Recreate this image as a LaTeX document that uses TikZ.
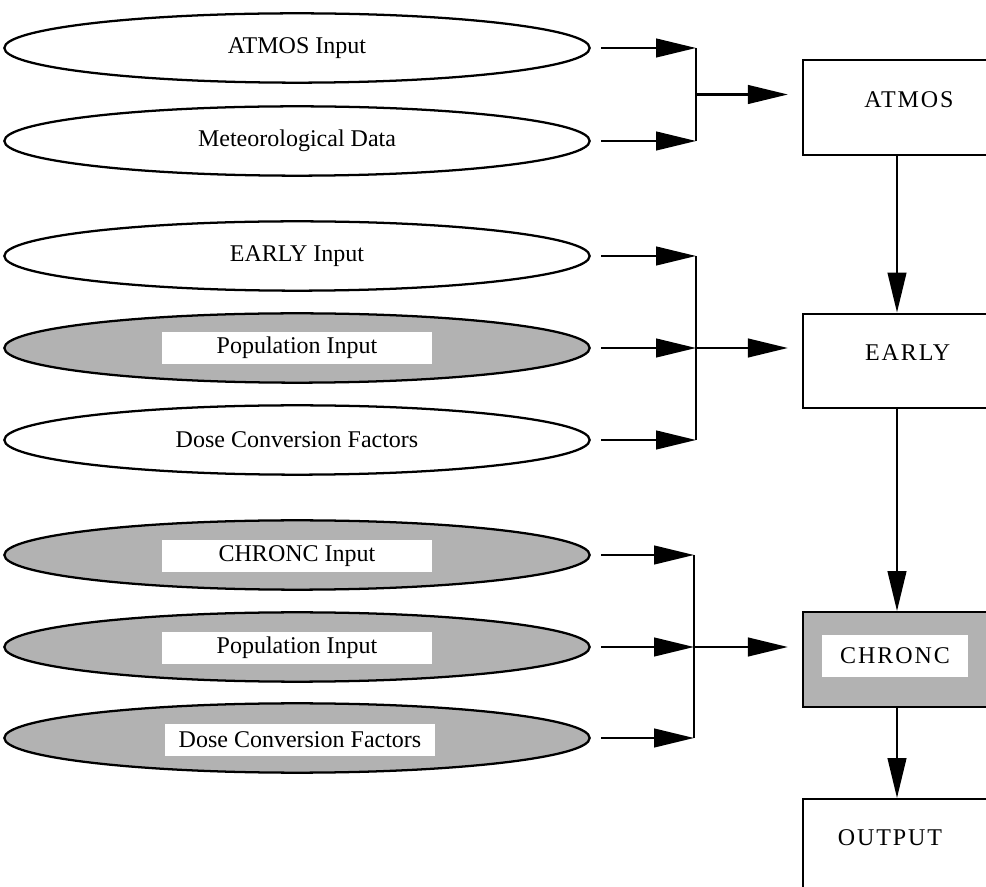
\documentclass[tikz,border=0pt]{standalone}
\usepackage{fontspec}
\setmainfont{Liberation Serif}
\newfontfamily\blockfont[LetterSpace=8]{Liberation Serif}
\usetikzlibrary{arrows.meta,shapes.geometric}

\definecolor{stipple}{gray}{0.7}

\tikzset{every picture/.style={line width=0.75pt}}
\tikzset{
  infile/.style={ellipse, draw, line width=1.7pt, minimum width=439pt, minimum height=52pt,
    inner sep=0pt, font=\fontsize{18}{21}\selectfont},
  shadefile/.style={infile, fill=stipple},
  whitetag/.style={fill=white, minimum width=203pt, minimum height=24pt, inner sep=0pt,
    font=\fontsize{18}{21}\selectfont},
  modbox/.style={draw, line width=1.7pt, minimum width=141pt, minimum height=71pt,
    inner sep=0pt, text depth=12pt, font=\blockfont\fontsize{18}{21}\selectfont},
  feed/.style={line width=1.7pt, shorten <=8pt, -{Triangle[length=30pt,width=14pt]}},
  flow/.style={line width=1.7pt, -{Triangle[length=30pt,width=14pt]}},
  into/.style={flow, shorten >=10.5pt},
}

\begin{document}
\begin{tikzpicture}[x=0.75pt,y=0.75pt,yscale=-1,xscale=1]
	\useasboundingbox (0,0) rectangle (986,887);
	\clip (0,0) rectangle (986,887);

	% Input files
	\node[infile] (atmosin) at (297,48) {ATMOS Input};
	\node[infile] (metdata) at (297,141) {Meteorological Data};
	\node[infile] (earlyin) at (297,256) {EARLY Input};
	\node[shadefile] (popearly) at (297,348) {};
	\node[whitetag] (popearlytag) at (297,348) {Population Input};
	\node[infile] (dcfearly) at (297,440) {Dose Conversion Factors};
	\node[shadefile] (chroncin) at (297,555) {};
	\node[whitetag] (chroncintag) at (297,556) {CHRONC Input};
	\node[shadefile] (popchronc) at (297,647) {};
	\node[whitetag] (popchronctag) at (297,648) {Population Input};
	\node[shadefile] (dcfchronc) at (297,738) {};
	\node[whitetag] (dcfchronctag) at (300,740) {Dose Conversion Factors};

	% Modules
	\node[modbox] (atmos) at (897,107.5) {\hspace{18pt}ATMOS};
	\node[modbox] (early) at (897,361) {\hspace{16pt}EARLY};
	\node[modbox, fill=stipple] (chronc) at (897,659.5) {};
	\node[whitetag, minimum width=109pt, minimum height=31pt, font=\blockfont\fontsize{18}{21}\selectfont] (chronctag) at (895,656) {CHRONC};
	\node[modbox, anchor=north] (output) at (897,798) {};
	\node[font=\blockfont\fontsize{18}{21}\selectfont] (outputtag) at (890,838) {OUTPUT};

	% Brackets
	\coordinate (ja1) at (696,48);
	\coordinate (ja2) at (696,141);
	\coordinate (ja) at (696,94.5);
	\coordinate (jb1) at (696,256);
	\coordinate (jb2) at (696,348);
	\coordinate (jb3) at (696,440);
	\coordinate (jc1) at (694,555);
	\coordinate (jc2) at (694,647);
	\coordinate (jc3) at (694,738);

	\draw[feed] (atmosin.east) -- (ja1);
	\draw[feed] (metdata.east) -- (ja2);
	\draw[line width=1.7pt] (ja1) -- (ja2);
	\draw[into] (ja) -- (ja -| atmos.west);

	\draw[feed] (earlyin.east) -- (jb1);
	\draw[feed] (popearly.east) -- (jb2);
	\draw[feed] (dcfearly.east) -- (jb3);
	\draw[line width=1.7pt] (jb1) -- (jb3);
	\draw[into] (jb2) -- (jb2 -| early.west);

	\draw[feed] (chroncin.east) -- (jc1);
	\draw[feed] (popchronc.east) -- (jc2);
	\draw[feed] (dcfchronc.east) -- (jc3);
	\draw[line width=1.7pt] (jc1) -- (jc3);
	\draw[into] (jc2) -- (jc2 -| chronc.west);

	% Main chain
	\draw[flow] (atmos.south) -- (early.north);
	\draw[flow] (early.south) -- (chronc.north);
	\draw[flow] (chronc.south) -- (output.north);

\end{tikzpicture}
\end{document}
